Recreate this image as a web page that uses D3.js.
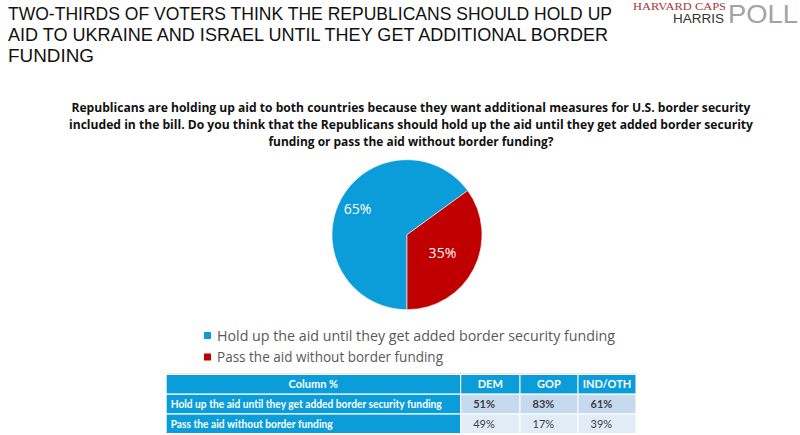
<!DOCTYPE html>
<html>
<head>
<meta charset="utf-8">
<script src="https://cdn.jsdelivr.net/npm/d3@7"></script>
<style>
  html, body { margin: 0; padding: 0; background: #fff; }
  svg { display: block; }
</style>
</head>
<body>
<svg id="chart" width="800" height="435"></svg>
<script>
// ---------- DATA ----------
const titleLines = [
  "TWO-THIRDS OF VOTERS THINK THE REPUBLICANS SHOULD HOLD UP",
  "AID TO UKRAINE AND ISRAEL UNTIL THEY GET ADDITIONAL BORDER",
  "FUNDING"
];
const questionLines = [
  "Republicans are holding up aid to both countries because they want additional measures for U.S. border security",
  "included in the bill. Do you think that the Republicans should hold up the aid until they get added border security",
  "funding or pass the aid without border funding?"
];
const categories = [
  "Hold up the aid until they get added border security funding",
  "Pass the aid without border funding"
];
const pieValues = [65, 35];
const tableColumns = ["Column %", "DEM", "GOP", "IND/OTH"];
const demValues = [51, 49];
const gopValues = [83, 17];
const indValues = [61, 39];

// ---------- STYLE ----------
const colors = ["#0a9dd9", "#c00000"];
const font = "'Open Sans', 'Liberation Sans', sans-serif";
const tightFont = "'Liberation Sans', Arial, sans-serif";
const narrowFont = "'Lato', 'Open Sans', sans-serif";
const svg = d3.select("#chart");

// ---------- TITLE ----------
const titleWidths = [604, 600, 86];
svg.append("g").selectAll("text").data(titleLines).join("text")
  .attr("x", 8)
  .attr("y", (d, i) => 20 + i * 20.8)
  .attr("font-family", tightFont)
  .attr("font-size", 18.1)
  .attr("fill", "#111")
  .attr("textLength", (d, i) => titleWidths[i])
  .attr("lengthAdjust", "spacingAndGlyphs")
  .text(d => d);

// ---------- LOGO ----------
const logo = svg.append("g");
logo.append("text").attr("x", 633).attr("y", 10)
  .attr("font-family", "'Liberation Serif', 'DejaVu Serif', serif")
  .attr("font-size", 10.5).attr("fill", "#a5363f")
  .attr("textLength", 93).attr("lengthAdjust", "spacingAndGlyphs")
  .text("HARVARD CAPS");
logo.append("text").attr("x", 673).attr("y", 23)
  .attr("font-family", tightFont).attr("font-size", 12).attr("fill", "#333")
  .attr("textLength", 51).attr("lengthAdjust", "spacingAndGlyphs")
  .text("HARRIS");
logo.append("text").attr("x", 728).attr("y", 23)
  .attr("font-family", tightFont)
  .attr("font-size", 25).attr("fill", "#a3a3a3")
  .attr("textLength", 70).attr("lengthAdjust", "spacingAndGlyphs")
  .text("POLL");

// ---------- QUESTION ----------
const qWidths = [679, 684, 285];
svg.append("g").selectAll("text").data(questionLines).join("text")
  .attr("x", 411)
  .attr("y", 112)
  .attr("dy", (d, i) => i * 17.2)
  .attr("text-anchor", "middle")
  .attr("font-family", font)
  .attr("font-weight", 700)
  .attr("font-size", 12.3)
  .attr("fill", "#111")
  .attr("textLength", (d, i) => qWidths[i])
  .attr("lengthAdjust", "spacingAndGlyphs")
  .text(d => d);

// ---------- PIE ----------
const cx = 407, cy = 234.7, R = 75;
const pie = d3.pie().sort(null).startAngle(Math.PI).endAngle(3 * Math.PI);
const arcs = pie(pieValues);
const arc = d3.arc().innerRadius(0).outerRadius(R);
const labelRadius = [0.74, 0.53];
const g = svg.append("g").attr("transform", `translate(${cx},${cy})`);
g.selectAll("path").data(arcs).join("path")
  .attr("d", arc)
  .attr("fill", (d, i) => colors[i])
  .attr("stroke", "#fff").attr("stroke-width", 0.6);
g.selectAll("text").data(arcs).join("text")
  .attr("transform", (d, i) => {
    const la = d3.arc().innerRadius(R * labelRadius[i]).outerRadius(R * labelRadius[i]);
    return `translate(${la.centroid(d)})`;
  })
  .attr("text-anchor", "middle")
  .attr("dy", "0.35em")
  .attr("font-family", font)
  .attr("font-size", 14)
  .attr("fill", "#fff")
  .text(d => d.data + "%");

// ---------- LEGEND ----------
const legend = svg.append("g").selectAll("g").data(categories).join("g")
  .attr("transform", (d, i) => `translate(204, ${332 + i * 21.5})`);
legend.append("rect").attr("width", 7).attr("height", 7)
  .attr("fill", (d, i) => colors[i]);
legend.append("text")
  .attr("x", 13).attr("y", 3.5).attr("dy", "0.36em")
  .attr("font-family", font).attr("font-size", 14).attr("fill", "#595959")
  .attr("textLength", (d, i) => [398, 226][i]).attr("lengthAdjust", "spacingAndGlyphs")
  .text(d => d);

// ---------- TABLE ----------
svg.append("line").attr("x1", 166).attr("x2", 636).attr("y1", 373.5).attr("y2", 373.5)
  .attr("stroke", "#e6e6e6").attr("stroke-width", 1);

const colEdges = [166.7, 460, 519.3, 577.3, 635.5];
const rowKeys = ["header", 0, 1];
const y = d3.scaleBand().domain(rowKeys).range([375, 433]).paddingInner(0.07);
const tbl = svg.append("g");
const valueCols = [demValues, gopValues, indValues];
const rowBg = ["#c5daee", "#e2ecf7"];

// header
tableColumns.forEach((c, j) => {
  const x0 = colEdges[j] + (j ? 1.2 : 0), x1 = colEdges[j + 1];
  tbl.append("rect").attr("x", x0).attr("y", y("header"))
    .attr("width", x1 - x0).attr("height", y.bandwidth()).attr("fill", "#0a9dd9");
  tbl.append("text").attr("x", (x0 + x1) / 2).attr("y", y("header") + y.bandwidth() / 2)
    .attr("dy", "0.36em").attr("text-anchor", "middle")
    .attr("font-family", narrowFont).attr("font-weight", 700).attr("font-size", 11)
    .attr("fill", "#fff").text(c);
});
// body rows
categories.forEach((cat, r) => {
  const yy = y(r), h = y.bandwidth();
  tbl.append("rect").attr("x", colEdges[0]).attr("y", yy)
    .attr("width", colEdges[1] - colEdges[0]).attr("height", h).attr("fill", "#0a9dd9");
  tbl.append("text").attr("x", colEdges[0] + 4).attr("y", yy + h / 2).attr("dy", "0.36em")
    .attr("font-family", narrowFont).attr("font-weight", 700).attr("font-size", 11)
    .attr("fill", "#fff")
    .attr("textLength", [271, 162][r]).attr("lengthAdjust", "spacingAndGlyphs")
    .text(cat);
  valueCols.forEach((vals, j) => {
    const x0 = colEdges[j + 1] + 1.2, x1 = colEdges[j + 2];
    tbl.append("rect").attr("x", x0).attr("y", yy)
      .attr("width", x1 - x0).attr("height", h).attr("fill", rowBg[r]);
    tbl.append("text").attr("x", x0 + 12).attr("y", yy + h / 2).attr("dy", "0.36em")
      .attr("font-family", narrowFont).attr("font-weight", r === 0 ? 700 : 400).attr("font-size", 11)
      .attr("fill", "#404040").text(vals[r] + "%");
  });
});
</script>
</body>
</html>
